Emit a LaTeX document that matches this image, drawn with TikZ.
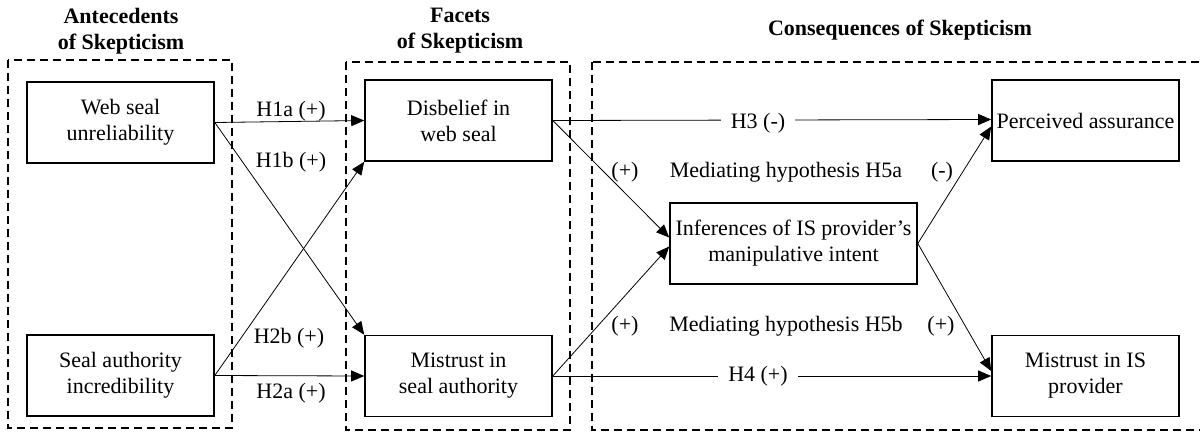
\documentclass[tikz,border=0pt]{standalone}
\usepackage{fontspec}
\setmainfont{Liberation Serif}
\usepackage{tikz}
\usetikzlibrary{positioning,arrows.meta}
\tikzset{
  construct/.style={
    draw,
    line width=1.6pt,
    minimum width=187pt,
    minimum height=81pt,
    inner sep=2pt,
    align=center,
    font=\fontsize{22}{26}\selectfont
  },
  group/.style={
    draw,
    line width=1.6pt,
    dash pattern=on 8pt off 5pt
  },
  header/.style={
    align=center,
    inner sep=0pt,
    font=\fontsize{22}{26}\selectfont\bfseries
  },
  hyp/.style={
    inner sep=0pt,
    font=\fontsize{22}{26}\selectfont
  },
  arrow/.style={
    -{Triangle[length=13pt,width=11pt]},
    line width=0.8pt
  }
}

\begin{document}
\begin{tikzpicture}[x=1pt,y=-1pt]
  \useasboundingbox (0,0) rectangle (1200,432);

  % Group frames
  \draw[group] (8,60) rectangle (232,428);
  \draw[group] (346,62) rectangle (570,430);
  \draw[group] (592,62) rectangle (1210,430);

  % Headers
  \node[header] (hdrant) at (121,31) {Antecedents\\of Skepticism};
  \node[header] (hdrfac) at (460,31) {Facets\\of Skepticism};
  \node[header] (hdrcon) at (900,30) {Consequences of Skepticism};

  % Antecedents
  \node[construct] (wsu) at (120.5,122.5) {Web seal\\unreliability};
  \node[construct] (sai) at (120.5,375.5) {Seal authority\\incredibility};

  % Facets
  \node[construct] (dis) at (458.5,120.5) {Disbelief in\\web seal};
  \node[construct] (msa) at (458.5,376) {Mistrust in\\seal authority};

  % Consequences
  \node[construct, minimum width=247pt] (inf) at (793.5,243.5) {Inferences of IS provider's\\manipulative intent};
  \node[construct] (pa) at (1085.5,120.5) {Perceived assurance};
  \node[construct] (mip) at (1085.5,376) {Mistrust in IS\\provider};

  % Antecedents -> facets
  \draw[arrow] (wsu.east) -- (dis.west);
  \draw[arrow] (wsu.east) -- (msa.north west);
  \draw[arrow] (sai.east) -- (dis.south west);
  \draw[arrow] (sai.east) -- (msa.west);
  \node[hyp] (lblhia) at (291,111) {H1a (+)};
  \node[hyp] (lblhib) at (291,162) {H1b (+)};
  \node[hyp] (lblhiib) at (289,338) {H2b (+)};
  \node[hyp] (lblhiia) at (291,393) {H2a (+)};

  % Facets -> consequences
  \draw[arrow] (dis.east) -- ([yshift=1pt]pa.west);
  \draw[arrow] (msa.east) -- (mip.west);
  \draw[arrow] (dis.east) -- ([yshift=6pt]inf.west);
  \draw[arrow] (msa.east) -- ([yshift=-3pt]inf.west);
  \draw[arrow] (inf.east) -- ([yshift=-6pt]pa.west);
  \draw[arrow] (inf.east) -- ([yshift=5pt]mip.west);
  \node[hyp, fill=white, inner xsep=10pt, inner ysep=2pt] (lblhiii) at (758,123) {H3 (-)};
  \node[hyp, fill=white, inner xsep=10pt, inner ysep=2pt] (lblhiv) at (758,376) {H4 (+)};

  % Mediating hypotheses
  \node[hyp] (lblmaa) at (625,172) {(+)};
  \node[hyp] (lblma) at (786,172) {Mediating hypothesis H5a};
  \node[hyp] (lblmab) at (942,172) {(-)};
  \node[hyp] (lblmba) at (625,326) {(+)};
  \node[hyp] (lblmb) at (786,326) {Mediating hypothesis H5b};
  \node[hyp] (lblmbb) at (941,326) {(+)};
\end{tikzpicture}
\end{document}
